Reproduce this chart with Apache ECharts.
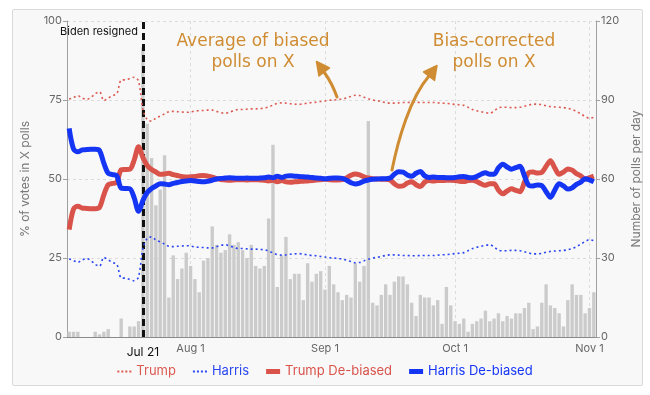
<!DOCTYPE html>
<html><head><meta charset="utf-8">
<script src="https://cdn.jsdelivr.net/npm/echarts@6/dist/echarts.min.js"></script>
<style>
html,body{margin:0;padding:0;background:#fff;}
#box{position:absolute;left:12px;top:9px;width:629px;height:375px;background:#f8f8f8;border:1px solid #dadada;border-radius:2px;}
#c{position:absolute;left:0;top:0;width:650px;height:395px;}
</style>
</head><body><div id="box"></div><div id="c"></div>
<script>
// ---- categories: one per day, Jul 4 .. Nov 2 (2024)
const monthNames = ['Jan','Feb','Mar','Apr','May','Jun','Jul','Aug','Sep','Oct','Nov','Dec'];
const dayLabels = [];
for (let i = 0; i < 122; i++) {
  const d = new Date(Date.UTC(2024, 6, 4 + i));
  dayLabels.push(monthNames[d.getUTCMonth()] + ' ' + d.getUTCDate());
}
const monthTicks = ['Aug 1', 'Sep 1', 'Oct 1', 'Nov 1'];
const eventDay = 'Jul 21';
const eventText = 'Biden resigned';
const leftTicks = [0, 25, 50, 75, 100];
const rightTicks = [0, 30, 60, 90, 120];

// ---- number of polls per day (right axis)
const pollsPerDay = [
  2,2,2,0,0,0,2,1,2,3,
  0,0,7,0,4,4,6,110,81,68,
  50,56,69,15,31,22,26,32,27,22,
  17,29,30,42,35,32,33,39,35,36,
  33,30,35,27,26,27,45,73,19,31,
  38,22,24,24,14,28,21,24,25,18,
  27,20,17,14,16,15,28,21,27,82,
  13,12,16,20,16,21,23,23,20,13,
  8,16,15,15,12,14,5,19,12,6,
  5,7,2,5,6,7,10,6,7,9,
  6,8,7,9,9,11,13,3,4,13,
  20,12,11,9,4,14,20,16,16,9,
  11,17
];

// ---- % of votes in X polls (left axis)
const trumpRaw = [
  75.3,75.8,76.4,75.6,75.2,75.8,77.0,77.6,74.8,75.6,
  76.4,77.0,81.3,81.4,81.8,82.2,81.0,72.0,68.8,68.3,
  69.3,69.9,70.6,71.3,71.4,71.3,71.2,71.1,71.2,71.5,
  71.6,71.7,71.8,71.8,71.4,71.0,70.8,71.2,71.6,72.0,
  72.0,72.1,72.2,72.2,72.3,72.4,72.8,73.4,73.9,74.1,
  74.0,73.8,73.7,73.6,73.8,74.0,74.2,74.3,74.5,74.7,
  74.9,75.0,75.2,75.3,75.7,76.1,76.5,76.4,75.9,75.4,
  75.0,74.8,74.5,74.2,74.0,74.0,74.1,74.2,74.2,74.3,
  74.3,74.2,74.2,74.2,74.2,74.1,74.0,73.9,73.8,73.6,
  73.5,73.3,72.7,72.0,71.6,71.3,71.0,70.8,71.5,72.5,
  72.7,72.7,72.6,72.6,72.7,73.0,73.4,73.7,73.7,73.5,
  73.2,72.9,72.8,72.7,72.6,72.4,72.0,71.4,70.6,69.8,
  69.2,69.5
];
const harrisRaw = [
  24.7,24.2,23.6,24.4,24.8,24.2,23.0,22.4,25.2,24.4,
  23.6,23.0,18.7,18.6,18.2,17.8,19.0,28.0,31.2,31.7,
  30.7,30.1,29.4,28.7,28.6,28.7,28.8,28.9,28.8,28.5,
  28.4,28.3,28.2,28.2,28.6,29.0,29.2,28.8,28.4,28.0,
  28.0,27.9,27.8,27.8,27.7,27.6,27.2,26.6,26.1,25.9,
  26.0,26.2,26.3,26.4,26.2,26.0,25.8,25.7,25.5,25.3,
  25.1,25.0,24.8,24.7,24.3,23.9,23.5,23.6,24.1,24.6,
  25.0,25.2,25.5,25.8,26.0,26.0,25.9,25.8,25.8,25.7,
  25.7,25.8,25.8,25.8,25.8,25.9,26.0,26.1,26.2,26.4,
  26.5,26.7,27.3,28.0,28.4,28.7,29.0,29.2,28.5,27.5,
  27.3,27.3,27.4,27.4,27.3,27.0,26.6,26.3,26.3,26.5,
  26.8,27.1,27.2,27.3,27.4,27.6,28.0,28.6,29.4,30.2,
  30.8,30.5
];
const trumpDebiased = [
  34.0,40.5,41.4,40.8,40.7,40.6,40.6,41.0,45.0,48.2,
  48.6,49.0,52.9,53.0,53.1,56.0,60.2,56.8,54.3,53.0,
  52.2,51.5,51.6,51.8,51.4,51.1,50.8,50.6,50.7,50.8,
  51.0,51.1,50.9,50.6,50.1,49.8,49.7,49.6,49.7,49.8,
  49.8,49.7,49.8,49.8,49.7,49.6,49.4,49.6,49.1,49.5,
  49.1,49.0,49.1,49.2,49.3,49.4,49.5,49.7,49.8,49.9,
  49.8,49.7,49.7,49.8,50.4,51.2,51.6,51.3,50.7,50.3,
  50.1,50.0,49.9,49.9,49.7,48.5,47.7,47.8,48.7,49.1,
  48.2,47.6,49.0,49.5,49.4,49.5,49.5,49.6,49.6,49.5,
  49.3,49.2,49.5,49.6,49.2,48.5,48.0,48.5,48.5,46.5,
  45.3,46.2,46.9,46.4,46.0,49.0,52.0,52.2,51.9,52.1,
  54.0,55.8,53.5,51.5,52.2,53.2,52.8,51.7,51.0,50.0,
  50.4,50.9
];
const harrisDebiased = [
  66.0,59.5,58.6,59.2,59.3,59.4,59.4,59.0,55.0,51.8,
  51.4,51.0,47.1,47.0,46.9,44.0,39.8,43.2,45.7,47.0,
  47.8,48.5,48.4,48.2,48.6,48.9,49.2,49.4,49.5,49.4,
  49.2,49.1,49.3,49.6,50.0,50.2,50.3,50.4,50.3,50.2,
  50.2,50.3,50.2,50.2,50.3,50.4,50.6,50.4,50.9,50.5,
  50.9,51.0,50.9,50.8,50.7,50.6,50.5,50.3,50.2,50.1,
  50.2,50.3,50.3,50.2,49.6,48.8,48.4,48.7,49.3,49.7,
  49.9,50.0,50.1,50.1,50.3,51.5,52.3,52.2,51.3,50.9,
  51.8,52.4,51.0,50.5,50.6,50.5,50.5,50.4,50.4,50.5,
  50.7,50.8,50.5,50.4,50.8,51.5,52.0,51.5,51.5,53.5,
  54.7,53.8,53.1,53.6,54.0,51.0,48.0,47.8,48.1,47.9,
  46.0,44.2,46.5,48.5,47.8,46.8,47.2,48.3,49.0,50.1,
  49.7,49.1
];

const C = {
  trump: '#dc5a50', harris: '#2a47f2',
  trumpD: '#d9534a', harrisD: '#1535f5',
  bar: '#cbcbcb', note: '#cf8c32'
};
const FONT = 'Inter';
const dottedIcon = 'path://M0,0h2v2h-2zM4,0h2v2h-2zM8,0h2v2h-2zM12,0h2v2h-2z';
const thickIcon = 'path://M0,0h14v5h-14z';

const chart = echarts.init(document.getElementById('c'), null, {renderer: 'canvas'});
const option = {
  animation: false,
  backgroundColor: 'transparent',
  textStyle: {fontFamily: FONT},
  grid: {left: 67, right: 52, top: 21, bottom: 58},
  legend: {
    top: 360, left: 'center', itemWidth: 14, itemHeight: 6, itemGap: 17,
    symbolKeepAspect: true,
    textStyle: {fontSize: 13, fontFamily: FONT},
    data: [
      {name: 'Trump', icon: dottedIcon, textStyle: {color: C.trump}},
      {name: 'Harris', icon: dottedIcon, textStyle: {color: C.harris}},
      {name: 'Trump De-biased', icon: thickIcon, textStyle: {color: C.trumpD}},
      {name: 'Harris De-biased', icon: thickIcon, textStyle: {color: C.harrisD}}
    ]
  },
  xAxis: {
    type: 'category', data: dayLabels, boundaryGap: true,
    axisLine: {lineStyle: {color: '#8a8a8a'}},
    axisTick: {alignWithLabel: true, length: 4, lineStyle: {color: '#8a8a8a'},
      interval: (i, v) => monthTicks.includes(v)},
    axisLabel: {
      interval: (i, v) => monthTicks.includes(v) || v === eventDay,
      formatter: v => v === eventDay ? '{ev|' + v + '}' : v,
      color: '#666', fontSize: 11, margin: 6,
      rich: {ev: {color: '#111', fontSize: 12, padding: [3, 0, 0, 0]}}
    },
    splitLine: {show: true, alignWithLabel: true,
      interval: (i, v) => monthTicks.includes(v),
      lineStyle: {color: '#dcdcdc', type: [3, 3]}}
  },
  yAxis: [
    {type: 'value', min: leftTicks[0], max: leftTicks[leftTicks.length - 1], interval: 25,
      name: '% of votes in X polls', nameLocation: 'middle', nameGap: 36, nameRotate: 90,
      nameTextStyle: {color: '#777', fontSize: 12},
      axisLine: {show: true, lineStyle: {color: '#a0a0a0'}},
      axisTick: {show: true, length: 4, lineStyle: {color: '#a0a0a0'}},
      axisLabel: {color: '#666', fontSize: 11, margin: 5},
      splitLine: {show: true, lineStyle: {color: '#dcdcdc', type: [3, 3]}}},
    {type: 'value', min: rightTicks[0], max: rightTicks[rightTicks.length - 1], interval: 30,
      position: 'right',
      name: 'Number of polls per day', nameLocation: 'middle', nameGap: 30, nameRotate: 90,
      nameTextStyle: {color: '#777', fontSize: 12},
      axisLine: {show: true, lineStyle: {color: '#a0a0a0'}},
      axisTick: {show: true, length: 4, lineStyle: {color: '#a0a0a0'}},
      axisLabel: {color: '#666', fontSize: 11, margin: 5},
      splitLine: {show: false}}
  ],
  series: [
    {name: 'Polls per day', type: 'bar', yAxisIndex: 1, data: pollsPerDay,
      barCategoryGap: '22%', itemStyle: {color: C.bar}, z: 1, silent: true,
      markLine: {symbol: 'none', silent: true, label: {show: false},
        lineStyle: {color: '#111', type: [7, 4], width: 3},
        data: [{xAxis: eventDay}], z: 3}},
    {name: 'Trump', type: 'line', data: trumpRaw, smooth: 0.3, showSymbol: false, symbol: 'none',
      lineStyle: {color: C.trump, width: 1.6, type: [2, 3]}, itemStyle: {color: C.trump}, z: 4},
    {name: 'Harris', type: 'line', data: harrisRaw, smooth: 0.3, showSymbol: false, symbol: 'none',
      lineStyle: {color: C.harris, width: 1.6, type: [2, 3]}, itemStyle: {color: C.harris}, z: 4},
    {name: 'Trump De-biased', type: 'line', data: trumpDebiased, smooth: 0.3, showSymbol: false, symbol: 'none',
      lineStyle: {color: C.trumpD, width: 5}, itemStyle: {color: C.trumpD}, z: 5},
    {name: 'Harris De-biased', type: 'line', data: harrisDebiased, smooth: 0.3, showSymbol: false, symbol: 'none',
      lineStyle: {color: C.harrisD, width: 5}, itemStyle: {color: C.harrisD}, z: 6}
  ]
};
chart.setOption(option);

// annotations
const evX = chart.convertToPixel({xAxisIndex: 0}, eventDay);
const topY = chart.convertToPixel({yAxisIndex: 0}, 100);
const noteFont = '17px "DejaVu Sans"';
chart.setOption({
  graphic: [
    {type: 'text', x: evX - 5, y: topY + 11, z: 10,
      style: {text: eventText, fill: '#111', font: '11px ' + FONT, textAlign: 'right', textVerticalAlign: 'middle'}},
    {type: 'text', x: 253, y: 31, z: 10,
      style: {text: 'Average of biased\npolls on X', fill: C.note, font: noteFont, textAlign: 'center', lineHeight: 21}},
    {type: 'text', x: 494, y: 31, z: 10,
      style: {text: 'Bias-corrected\npolls on X', fill: C.note, font: noteFont, textAlign: 'center', lineHeight: 21}},
    {type: 'bezierCurve', z: 10,
      shape: {x1: 337, y1: 97, x2: 324, y2: 72, cpx1: 332, cpy1: 83},
      style: {stroke: C.note, lineWidth: 3, fill: null, lineCap: 'round'}},
    {type: 'polygon', z: 10,
      shape: {points: [[316.5, 61.5], [329.5, 68], [319, 76]]},
      style: {fill: C.note, stroke: C.note, lineWidth: 1.5, lineJoin: 'round'}},
    {type: 'bezierCurve', z: 10,
      shape: {x1: 392, y1: 170, x2: 429, y2: 76, cpx1: 398, cpy1: 140, cpx2: 410, cpy2: 98},
      style: {stroke: C.note, lineWidth: 3, fill: null, lineCap: 'round'}},
    {type: 'polygon', z: 10,
      shape: {points: [[437, 65.5], [434.5, 80.5], [423.5, 72]]},
      style: {fill: C.note, stroke: C.note, lineWidth: 1.5, lineJoin: 'round'}}
  ]
});
</script>
</body></html>
